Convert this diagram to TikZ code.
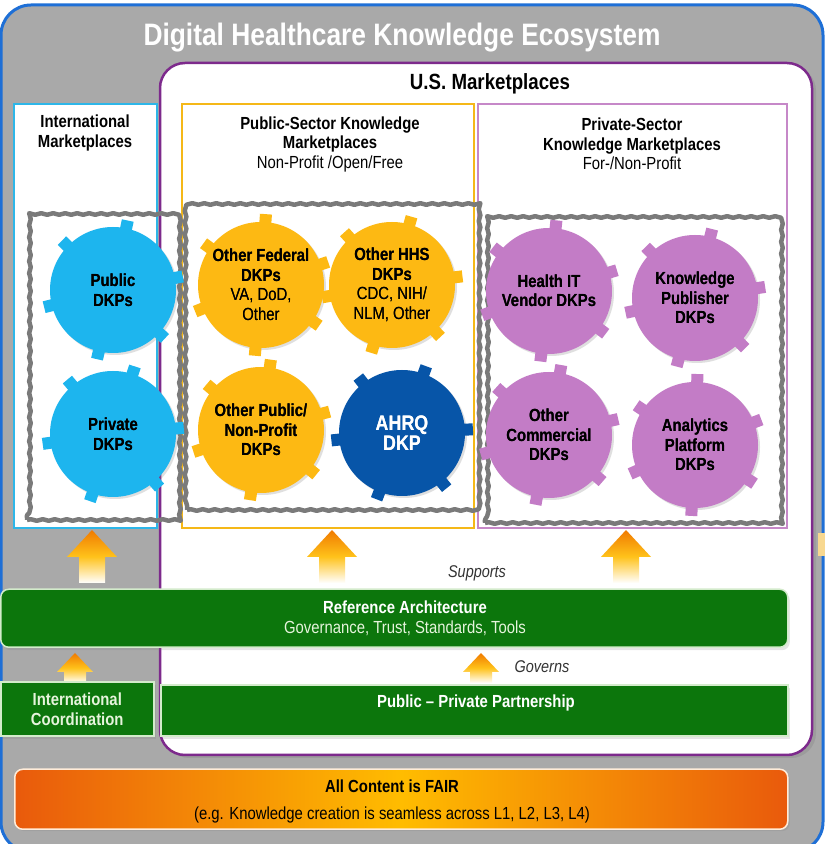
\documentclass[tikz,border=0pt]{standalone}
\usepackage{fontspec}
\setmainfont{Liberation Sans}[FakeStretch=0.85]
\usetikzlibrary{shadows,decorations.pathmorphing,calc}
\definecolor{outerblue}{HTML}{1E6FD6}
\definecolor{bggray}{HTML}{A9A9A9}
\definecolor{uspurple}{HTML}{7D2A8C}
\definecolor{intlcyan}{HTML}{2DB6E8}
\definecolor{pubyellow}{HTML}{F5B818}
\definecolor{privpurple}{HTML}{C688C8}
\definecolor{wavegray}{HTML}{7A7A7A}
\definecolor{gcyan}{HTML}{1DB5EE}
\definecolor{gyellow}{HTML}{FDB913}
\definecolor{gblue}{HTML}{0755A8}
\definecolor{gpurple}{HTML}{C37CC6}
\definecolor{bargreen}{HTML}{0C760C}
\definecolor{barline}{HTML}{D3EBCB}
\definecolor{bartxt}{HTML}{E6F4DC}
\definecolor{arrorange}{HTML}{F07A00}
\definecolor{arryellow}{HTML}{FFC21A}
\definecolor{fairorange}{HTML}{E95A0C}
\definecolor{fairyellow}{HTML}{FFBC00}
\definecolor{sliver}{HTML}{F8D890}

\tikzset{
  marketbox/.style={line width=2pt},
  wavybox/.style={draw=wavegray, line width=4.5pt, line join=round,
    decorate, decoration={snake, amplitude=0.8pt, segment length=12pt}},
  gearbody/.style={circle, minimum size=126pt, inner sep=0pt, align=center,
    font=\fontsize{17.5}{19.5}\selectfont\bfseries, text=black,
    drop shadow={opacity=0.25, shadow xshift=2pt, shadow yshift=-2pt}},
  tooth/.style={minimum width=14pt, minimum height=12pt, inner sep=0pt},
  greenbar/.style={fill=bargreen, draw=barline, line width=1.5pt,
    drop shadow={opacity=0.2, shadow xshift=2pt, shadow yshift=-3pt}},
  boxtitle/.style={align=center, font=\fontsize{17.5}{19.5}\selectfont\bfseries},
  bartext/.style={text=white, align=center, font=\fontsize{17.5}{20}\selectfont\bfseries},
  note/.style={font=\fontsize{17}{19}\selectfont\itshape, text=black!80},
  blockarrow/.style={top color=arrorange, bottom color=white, middle color=arryellow},
}

\newcommand\drawgear[6]{%
  \node[gearbody, fill=#4] (#1) at (#2,#3) {#6};
  \foreach \a in {11,78,136,194,257,317}{%
    \pgfmathsetmacro\ang{\a+#5}
    \node[tooth, fill=#4, rotate=\ang] at ($(#1.center)+(\ang:64pt)$) {};
  }%
  \node[align=center, font=\fontsize{17.5}{19.5}\selectfont\bfseries] at (#1.center) {#6};
}
\newcommand\bigarrow[2]{%
  \coordinate (#1) at (#2,314);
  \shade[blockarrow] ($(#1)+(-13,-53)$) -- ($(#1)+(-13,-27)$) -- ($(#1)+(-25,-27)$) -- (#1)
    -- ($(#1)+(25,-27)$) -- ($(#1)+(13,-27)$) -- ($(#1)+(13,-53)$) -- cycle;
}
\newcommand\smallarrow[2]{%
  \coordinate (#1) at (#2,191);
  \shade[blockarrow] ($(#1)+(-11,-30)$) -- ($(#1)+(-11,-19)$) -- ($(#1)+(-18,-19)$) -- (#1)
    -- ($(#1)+(18,-19)$) -- ($(#1)+(11,-19)$) -- ($(#1)+(11,-30)$) -- cycle;
}
\newcommand\wavyframe[4]{%
  \draw[wavybox] (#1,#2) -- (#3,#2) -- (#3,#4) -- (#1,#4) -- cycle;
}

\begin{document}
\begin{tikzpicture}[x=1pt,y=1pt]
\useasboundingbox (0,0) rectangle (825,844);
\fill[white] (0,0) rectangle (825,844);

% outer frame
\draw[draw=outerblue, line width=3pt, fill=bggray, rounded corners=30pt] (1,-8) rectangle (823,839);
\fill[sliver] (818,288) rectangle (826,311);
\node[text=white, font=\fontsize{31}{36}\selectfont\bfseries] (title) at (402,806) {Digital Healthcare Knowledge Ecosystem};

% market boxes
\draw[marketbox, draw=intlcyan, fill=white] (14,316) rectangle (157,740);
\draw[draw=uspurple, line width=2.5pt, fill=white, rounded corners=25pt,
  drop shadow={opacity=0.3, shadow xshift=4pt, shadow yshift=-3pt}] (160,89) rectangle (812,781);
\node[font=\fontsize{22}{26}\selectfont\bfseries] (ustitle) at (490,760) {U.S. Marketplaces};
\draw[line width=1.5pt, draw=pubyellow] (182,316) rectangle (474,740);
\draw[line width=1.5pt, draw=privpurple] (478,316) rectangle (787,740);

\node[boxtitle] (intlT) at (85,711) {International\\Marketplaces};
\node[boxtitle] (pubT) at (330,700) {Public-Sector Knowledge\\Marketplaces\\\mdseries Non-Profit /Open/Free};
\node[boxtitle] (privT) at (632,700) {Private-Sector\\Knowledge Marketplaces\\\mdseries For-/Non-Profit};

% wavy gray groups
\wavyframe{27}{324}{178}{631}
\wavyframe{187}{334}{477}{641}
\wavyframe{485}{321}{778}{629}

% gears
\drawgear{pub}{113}{554}{gcyan}{0}{Public\\DKPs}
\drawgear{priv}{113}{410}{gcyan}{-6}{Private\\DKPs}
\drawgear{fed}{261}{559}{gyellow}{8}{Other Federal\\DKPs\\\mdseries VA, DoD,\\\mdseries Other}
\drawgear{hhs}{392}{559}{gyellow}{-4}{Other HHS\\DKPs\\\mdseries CDC, NIH/\\\mdseries NLM, Other}
\drawgear{oth}{261}{414}{gyellow}{4}{Other Public/\\Non-Profit\\DKPs}
\drawgear{ahrq}{402}{411}{gblue}{-8}{\textcolor{white}{\fontsize{21}{23}\selectfont AHRQ}\\\textcolor{white}{\fontsize{21}{23}\selectfont DKP}}
\drawgear{hit}{549}{553}{gpurple}{6}{Health IT\\Vendor DKPs}
\drawgear{kpub}{695}{546}{gpurple}{-2}{Knowledge\\Publisher\\DKPs}
\drawgear{ocom}{549}{409}{gpurple}{2}{Other\\Commercial\\DKPs}
\drawgear{anal}{695}{399}{gpurple}{10}{Analytics\\Platform\\DKPs}

% arrows
\bigarrow{a1}{92}
\bigarrow{a2}{332}
\bigarrow{a3}{626}
\node[note] (supports) at (477,271) {Supports};

% green bars
\node[greenbar, rounded corners=8pt, minimum width=787pt, minimum height=58pt, anchor=south west, inner sep=0pt] (ref) at (0,196) {};
\node[bartext] (reftext) at (405,226) {Reference Architecture\\\mdseries\textcolor{bartxt}{Governance, Trust, Standards, Tools}};

\smallarrow{a4}{75}
\smallarrow{a5}{481}
\node[note] (governs) at (542,177) {Governs};

\node[greenbar, minimum width=153pt, minimum height=54pt, anchor=south west, inner sep=0pt] (intlc) at (0,107) {};
\node[bartext, text=bartxt] at (intlc.center) {International\\Coordination};
\node[greenbar, minimum width=627pt, minimum height=51pt, anchor=south west, inner sep=0pt] (ppp) at (160,107) {};
\node[bartext] (ppptext) at (476,141) {Public -- Private Partnership};

% FAIR bar
\node[draw=white!85!orange, line width=1.5pt, rounded corners=8pt, left color=fairorange, right color=fairorange, middle color=fairyellow,
  minimum width=773pt, minimum height=60pt, anchor=south west, inner sep=0pt,
  drop shadow={opacity=0.2, shadow xshift=2pt, shadow yshift=-2pt}] (fair) at (14,14) {};
\node[align=center, font=\fontsize{17.5}{27}\selectfont\bfseries] (fairtext) at (392,43) {All Content is FAIR\\\mdseries (e.g. Knowledge creation is seamless across L1, L2, L3, L4)};
\end{tikzpicture}
\end{document}
